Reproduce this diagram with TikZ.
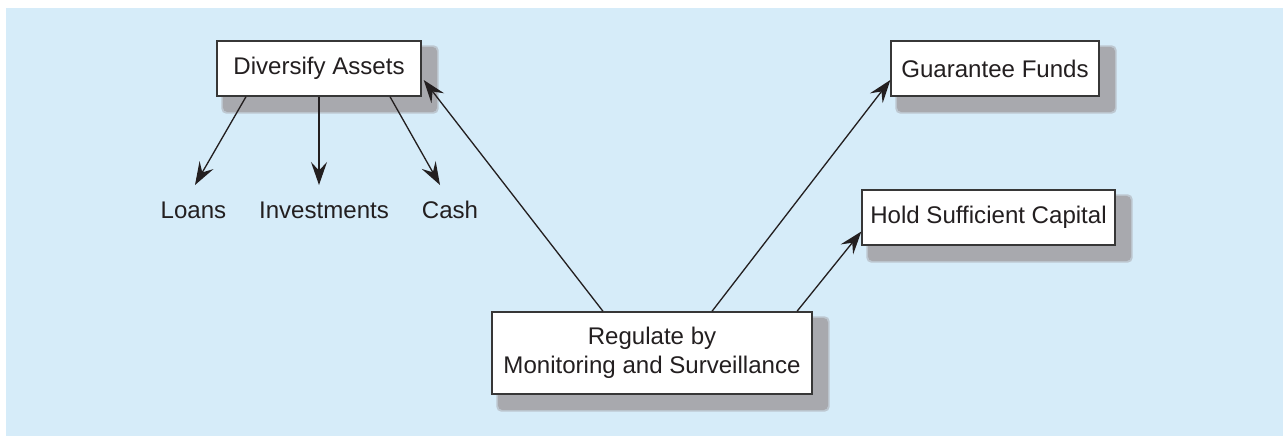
\documentclass[tikz,border=0pt]{standalone}
\usepackage{fontspec}
\setmainfont{Liberation Sans}
\usetikzlibrary{arrows.meta,positioning,calc,backgrounds}
\definecolor{skyback}{RGB}{214,236,249}
\definecolor{boxline}{RGB}{55,55,55}
\definecolor{shadegray}{RGB}{168,169,174}
\definecolor{inkline}{RGB}{35,31,32}
\tikzstyle{box} = [rectangle, draw=boxline, line width=0.8pt, fill=white,
  text=inkline, minimum height=1.1cm, align=center,
  font=\fontsize{13.7}{16.5}\selectfont]
\tikzstyle{leaf} = [text=inkline, inner sep=0pt, text height=0.36cm,
  text depth=0pt, outer ysep=0.3cm, font=\fontsize{13.7}{16.5}\selectfont]
\tikzstyle{shadowbox} = [rounded corners=0.1cm]
\tikzstyle{line} = [draw=inkline, line width=0.75pt,
  -{Stealth[length=0.46cm, width=0.32cm, inset=0.17cm]}]

\begin{document}
\begin{tikzpicture}[x=0.02cm, y=-0.02cm]
\useasboundingbox (0,0) rectangle (1283,436);

% ==========================================
% BOXES
% ==========================================
\node[box, minimum width=4.08cm] (div) at (319,68.5) {Diversify Assets};
\node[box, minimum width=4.16cm] (guar) at (995,68.5) {Guarantee Funds};
\node[box, minimum width=5.06cm] (hold) at (988.5,217.5) {Hold Sufficient Capital};
\node[box, minimum width=6.40cm, minimum height=1.64cm] (reg) at (652,353)
  {Regulate by\\Monitoring and Surveillance};

% Asset labels
\node[leaf] (loans) at (193.5,209) {Loans};
\node[leaf] (inv)   at (324,209)   {Investments};
\node[leaf] (cash)  at (450,209)   {Cash};

% ==========================================
% ARROWS
% ==========================================
\draw[line] ($(div.south)+(-73,0)$) -- ($(loans.north)+(1.5,0)$);
\draw[line] (div.south) -- (div.south |- inv.north);
\draw[line] ($(div.south)+(71,0)$) -- ($(cash.north)+(-10,0)$);

\draw[line] ($(reg.north)+(-49,0)$) -- ($(div.east)+(2,11.5)$);
\draw[line] ($(reg.north)+(60,0)$) -- ($(guar.west)+(0,11.5)$);
\draw[line] ($(reg.north)+(145,0)$) -- ($(hold.west)+(0,14)$);

% Background and shadows
\begin{pgfonlayer}{background}
\fill[skyback] (6,8) rectangle (1283,436);
\foreach \n in {div,guar,hold,reg}
  { \fill[shadowbox, shadegray!55!skyback] ($(\n.south west)+(5,17)$) rectangle ($(\n.north east)+(17,5)$);
    \fill[shadowbox, shadegray] ($(\n.south west)+(6.5,15.5)$) rectangle ($(\n.north east)+(15.5,6.5)$); }
\end{pgfonlayer}

\end{tikzpicture}
\end{document}
